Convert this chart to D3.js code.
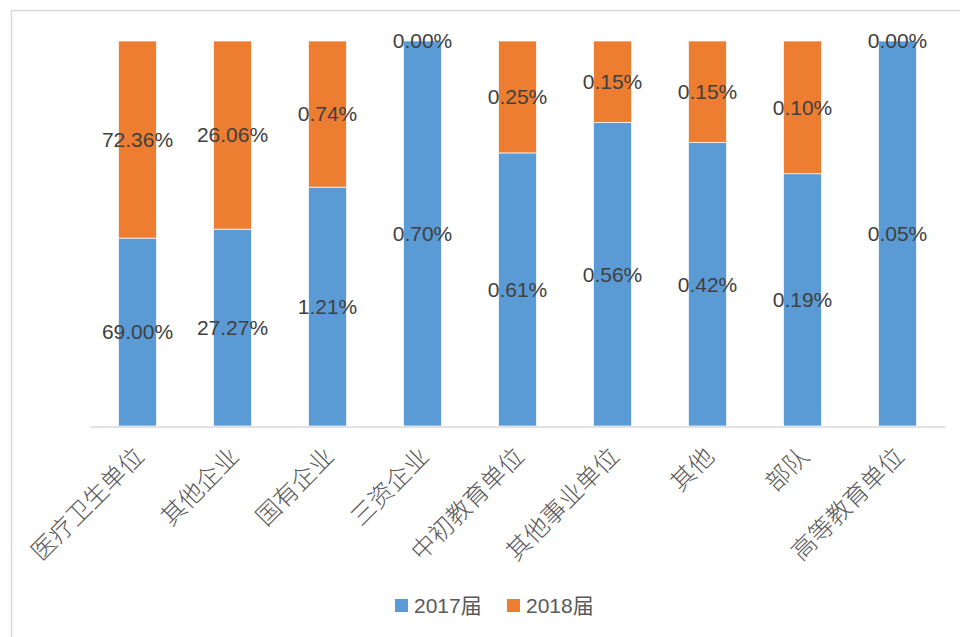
<!DOCTYPE html>
<html><head><meta charset="utf-8">
<script src="https://cdn.jsdelivr.net/npm/d3@7"></script>
<style>body{margin:0;background:#fff}svg{display:block}</style>
</head><body>
<svg id="c" width="960" height="637"></svg>
<script>
const categories = ["医疗卫生单位","其他企业","国有企业","三资企业","中初教育单位","其他事业单位","其他","部队","高等教育单位"];
const series2017 = [69.00, 27.27, 1.21, 0.70, 0.61, 0.56, 0.42, 0.19, 0.05];
const series2018 = [72.36, 26.06, 0.74, 0.00, 0.25, 0.15, 0.15, 0.10, 0.00];
const seriesNames = ["2017届","2018届"];
const colors = ["#5b9bd5","#ed7d31"];

const svg = d3.select("#c");
// chart border
svg.append("rect").attr("x",11.5).attr("y",10.5).attr("width",960).attr("height",640)
  .attr("fill","none").attr("stroke","#d9d9d9").attr("stroke-width",1.5);

const x = d3.scaleBand().domain(categories).range([90,945]).paddingInner(0.6).paddingOuter(0.3);
const y = d3.scaleLinear().domain([0,1]).range([426,41]);

const data = categories.map((c,i)=>({cat:c, v:[series2017[i], series2018[i]]}));
const g = svg.append("g");
data.forEach(d=>{
  const tot = d.v[0]+d.v[1];
  let acc = 0;
  d.v.forEach((v,k)=>{
    const f0 = acc/tot, f1 = (acc+v)/tot;
    acc += v;
    g.append("rect").attr("x",x(d.cat)).attr("width",x.bandwidth())
      .attr("y",y(f1)).attr("height",y(f0)-y(f1))
      .attr("fill",colors[k]).attr("stroke","#fff").attr("stroke-width",0.7);
  });
});
// axis line
const xAxis = d3.axisBottom(x).tickSize(0).tickFormat("");
const ax = svg.append("g").attr("transform","translate(0,426.5)").call(xAxis);
ax.select(".domain").attr("stroke","#d9d9d9").attr("stroke-width",1.5);
// category labels
svg.append("g").selectAll("text").data(categories).join("text")
  .attr("transform",d=>`translate(${x(d)+x.bandwidth()/2+8},${458}) rotate(-45)`)
  .attr("text-anchor","end")
  .attr("font-family","'Noto Sans CJK SC'").attr("font-weight",300)
  .attr("font-size",24.5).attr("fill","#595959").text(d=>d);
// data labels
data.forEach(d=>{
  const tot = d.v[0]+d.v[1];
  let acc = 0;
  d.v.forEach((v,k)=>{
    const mid = (acc+v/2)/tot; acc += v;
    svg.append("text").attr("x",x(d.cat)+x.bandwidth()/2).attr("y",y(mid))
      .attr("dy","0.35em").attr("text-anchor","middle")
      .attr("font-family","'Liberation Sans', Arial").attr("font-size",21)
      .attr("fill","#404040").text(v.toFixed(2)+"%");
  });
});
// legend
const lg = svg.append("g");
const lx = [395, 507];
seriesNames.forEach((n,i)=>{
  lg.append("rect").attr("x",lx[i]).attr("y",599).attr("width",13).attr("height",13).attr("fill",colors[i]);
  lg.append("text").attr("x",lx[i]+19).attr("y",605.5).attr("dy","0.35em")
    .attr("font-family","'Liberation Sans','Noto Sans CJK SC'").attr("font-size",21)
    .attr("fill","#595959").text(n);
});
</script>
</body></html>
